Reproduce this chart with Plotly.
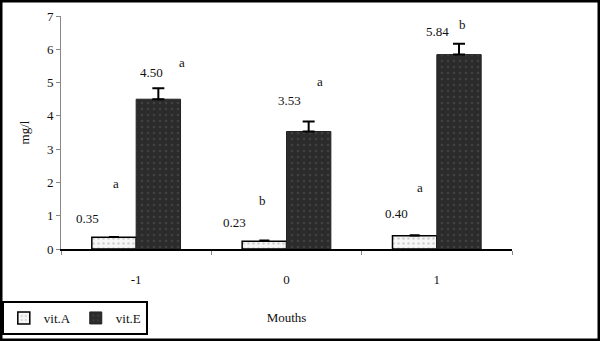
import plotly.graph_objects as go

months = ["-1", "0", "1"]
vit_a = [0.35, 0.23, 0.40]
vit_e = [4.50, 3.53, 5.84]
vit_a_err = [0.02, 0.03, 0.02]
vit_e_err = [0.33, 0.30, 0.33]
letters_a = ["a", "b", "a"]
letters_e = ["a", "a", "b"]
y_ticks = [0, 1, 2, 3, 4, 5, 6, 7]

# annotation placement (styling)
val_a_pos = [(-49, 0.93), (-52, 0.80), (-40, 1.08)]
let_a_pos = [(-20, 1.98), (-24, 1.47), (-17, 1.86)]
val_e_pos = [(15, 5.30), (3, 4.47), (1, 6.52)]
let_e_pos = [(46, 5.60), (33, 5.04), (26, 6.73)]

L, R, T, B = 61, 88, 16, 92
W, H = 600, 341
pw, ph = W - L - R, H - T - B

fig = go.Figure()
fig.add_trace(go.Bar(
    x=months, y=vit_a, name="vit.A",
    marker=dict(color="#f6f6f6", line=dict(color="black", width=1.5),
                pattern=dict(shape=".", fgcolor="#aaaaaa", size=5, solidity=0.2)),
    error_y=dict(type="data", array=vit_a_err, symmetric=False, color="black", thickness=1.5, width=5),
))
fig.add_trace(go.Bar(
    x=months, y=vit_e, name="vit.E",
    marker=dict(color="#2b2b2b", line=dict(color="#222", width=1),
                pattern=dict(shape=".", fgcolor="#555555", size=6, solidity=0.15)),
    error_y=dict(type="data", array=vit_e_err, symmetric=False, color="black", thickness=2, width=6),
))

font = dict(family="Liberation Serif", size=13, color="#111111")
ann = []
for i, m in enumerate(months):
    for txt, (dx, yy) in [(f"{vit_a[i]:.2f}", val_a_pos[i]), (letters_a[i], let_a_pos[i]),
                          (f"{vit_e[i]:.2f}", val_e_pos[i]), (letters_e[i], let_e_pos[i])]:
        ann.append(dict(x=i, y=yy, xref="x", yref="y", text=txt, showarrow=False,
                        xshift=dx, font=font))
fig.update_layout(annotations=ann)

fig.update_layout(
    width=W, height=H,
    margin=dict(l=L, r=R, t=T, b=B, autoexpand=False),
    paper_bgcolor="white", plot_bgcolor="white",
    barmode="group", bargap=0.41, bargroupgap=0,
    font=font,
    showlegend=True,
    legend=dict(orientation="h", x=-L / pw + 0.004, xanchor="left",
                y=-(B - 6) / ph, yanchor="bottom",
                bordercolor="black", borderwidth=2, bgcolor="white",
                font=dict(family="Liberation Serif", size=13, color="#111111"),
                itemwidth=30, tracegroupgap=0),
    xaxis=dict(type="category", showline=True, linecolor="black", linewidth=2,
               ticks="outside", tickson="boundaries", ticklen=4, tickcolor="#888",
               ticklabelstandoff=17,
               title=dict(text="Mouths", standoff=27, font=font),
               showgrid=False, zeroline=False),
    yaxis=dict(range=[0, 7], tickvals=y_ticks, showline=True, linecolor="#888",
               linewidth=1, ticks="outside", ticklen=4, tickcolor="#888",
               title=dict(text="mg/l", standoff=14, font=font),
               showgrid=False, zeroline=False),
    shapes=[dict(type="rect", xref="paper", yref="paper",
                 x0=-L / pw + 1 / pw, x1=1 + (R - 1) / pw,
                 y0=-(B - 1) / ph, y1=1 + (T - 1) / ph,
                 line=dict(color="black", width=3))],
)

fig.write_html("out.html", config={"displayModeBar": False},
               post_script="document.body.style.margin='0';document.body.style.overflow='hidden';")
